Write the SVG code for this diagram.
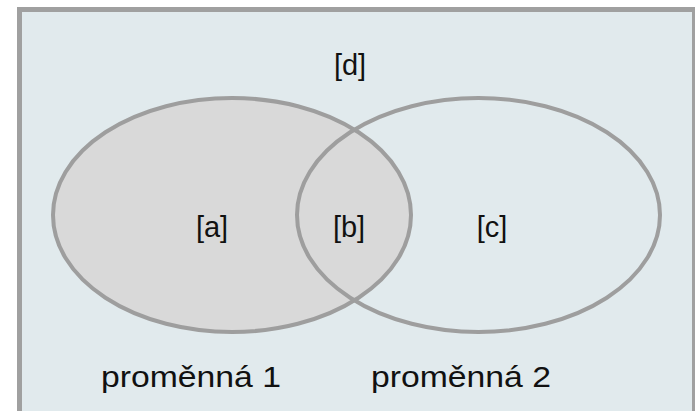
<svg xmlns="http://www.w3.org/2000/svg" width="695" height="411" viewBox="0 0 695 411">
<style>
.t{font-family:"Liberation Sans","Open Sans",sans-serif;font-size:29px;fill:#111;text-anchor:middle}
.e{stroke:#9E9E9E;stroke-width:4}
</style>
<rect width="695" height="411" fill="#fff"/>
<g id="frame"><rect x="19.5" y="9.5" width="675" height="420" fill="#E1EAED" stroke="#A0A0A0" stroke-width="5"/></g>
<g id="set1"><ellipse class="e" cx="232" cy="215" rx="179" ry="117" fill="#D9D9D9"/></g>
<g id="set2"><ellipse class="e" cx="478.5" cy="215" rx="181.5" ry="117" fill="none"/></g>
<g id="labels">
<text class="t" x="350" y="75">[d]</text>
<text class="t" x="212" y="237">[a]</text>
<text class="t" x="349" y="237">[b]</text>
<text class="t" x="492" y="237">[c]</text>
<text class="t" x="191" y="387" textLength="180" lengthAdjust="spacingAndGlyphs">proměnná 1</text>
<text class="t" x="461" y="387" textLength="180" lengthAdjust="spacingAndGlyphs">proměnná 2</text>
</g>
</svg>
